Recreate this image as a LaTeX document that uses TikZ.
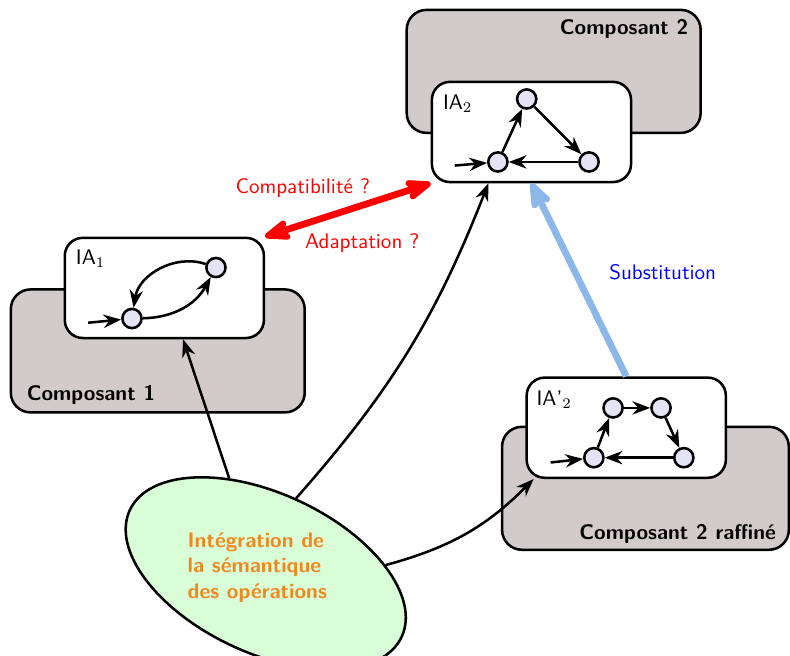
\documentclass[tikz,border=0pt]{standalone}
\usepackage{tikz}
\usetikzlibrary{shapes.geometric,arrows.meta,positioning}
\renewcommand{\familydefault}{\sfdefault}
\definecolor{compgray}{RGB}{211,203,203}
\definecolor{etatfill}{RGB}{228,228,246}
\definecolor{semgreen}{RGB}{217,253,214}
\definecolor{semorange}{RGB}{240,136,30}
\definecolor{substblue}{RGB}{139,184,232}
\tikzset{
  compbox/.style={draw, very thick, rounded corners=0.33cm, fill=compgray, minimum width=4.9cm, minimum height=2.05cm},
  iabox/.style={draw, very thick, rounded corners=0.3cm, fill=white, minimum width=3.32cm, minimum height=1.67cm},
  iatitle/.style={anchor=north west, inner sep=0pt},
  comptitle/.style={inner sep=0pt, font=\bfseries},
  etat/.style={circle, draw, very thick, fill=etatfill, minimum size=0.32cm, inner sep=0pt},
  trans/.style={-{Stealth}, very thick},
  lien/.style={-{Stealth}, very thick},
  blob/.style={ellipse, draw, very thick, fill=semgreen, minimum width=5cm, minimum height=2.66cm},
}

\begin{document}
\begin{tikzpicture}
	%%%%% START %%%%%
	\useasboundingbox (0, 0) rectangle (13.17, 10.93);

	% composant 2
	\node[compbox] (c2) at (9.23, 9.74) {};
	\node[comptitle, anchor=north east] (c2title) at ([shift={(-0.22,-0.18)}]c2.north east) {Composant 2};
	\node[iabox] (ia2) at (8.86, 8.73) {};
	\node[iatitle] (ia2title) at ([shift={(0.2,-0.23)}]ia2.north west) {IA$_2$};
	\node[etat] (s2a) at (8.78, 9.28) {};
	\node[etat] (s2b) at (8.3, 8.23) {};
	\node[etat] (s2c) at (9.82, 8.23) {};
	\coordinate (in2) at (7.58, 8.17);
	\draw[trans] (in2) -- (s2b);
	\draw[trans] (s2b) -- (s2a);
	\draw[trans] (s2a) -- (s2c);
	\draw[trans] (s2c) -- (s2b);

	% composant 1
	\node[compbox] (c1) at (2.63, 5.08) {};
	\node[comptitle, anchor=base west] (c1title) at ([shift={(0.28,0.22)}]c1.south west) {Composant 1};
	\node[iabox] (ia1) at (2.74, 6.13) {};
	\node[iatitle] (ia1title) at ([shift={(0.2,-0.22)}]ia1.north west) {IA$_1$};
	\node[etat] (s1a) at (2.2, 5.62) {};
	\node[etat] (s1b) at (3.6, 6.47) {};
	\coordinate (in1) at (1.47, 5.55);
	\draw[trans] (in1) -- (s1a);
	\draw[trans] (s1a) to[bend right=30] (s1b);
	\draw[trans] (s1b) to[bend right=50] (s1a);

	% composant 2 raffine
	\node[compbox, minimum width=4.78cm] (c3) at (10.76, 2.79) {};
	\node[comptitle, anchor=base east] (c3title) at ([shift={(-0.23,0.2)}]c3.south east) {Composant 2 raffin\'e};
	\node[iabox] (ia3) at (10.44, 3.8) {};
	\node[iatitle] (ia3title) at ([shift={(0.18,-0.23)}]ia3.north west) {IA'$_2$};
	\node[etat] (s3a) at (9.9, 3.3) {};
	\node[etat] (s3b) at (10.22, 4.13) {};
	\node[etat] (s3c) at (11.02, 4.13) {};
	\node[etat] (s3d) at (11.4, 3.3) {};
	\coordinate (in3) at (9.18, 3.22);
	\draw[trans] (in3) -- (s3a);
	\draw[trans] (s3a) -- (s3b);
	\draw[trans] (s3b) -- (s3c);
	\draw[trans] (s3c) -- (s3d);
	\draw[trans] (s3d) -- (s3a);

	% semantique
	\node[blob, rotate=-25] (sem) at (4.43, 1.37) {};
	\node[align=left, inner sep=0pt, text=semorange, font=\bfseries] (semtext) at (4.29, 1.47) {Int\'egration de\\la s\'emantique\\des op\'erations};

	\draw[lien] (sem.136) -- (ia1.-70);
	\draw[lien] (sem.93) to[bend right=10] (ia2.-130);
	\draw[lien] (sem.29) to[bend right=15] (ia3.-151);

	% compatibilite
	\draw[{Stealth[round]}-{Stealth[round]}, line width=3.2pt, red, line cap=round] (ia1.north east) -- (ia2.south west);
	\node[anchor=base west, text=red, inner sep=0pt] (compat) at (3.92, 7.7) {Compatibilit\'e ?};
	\node[anchor=base west, text=red, inner sep=0pt] (adapt) at (5.08, 6.78) {Adaptation ?};

	% substitution
	\draw[-{Stealth[round]}, line width=3.2pt, substblue] (ia3.north) -- (ia2.south);
	\node[anchor=base west, text=blue, inner sep=0pt] (subst) at (10.15, 6.27) {Substitution};
	%%%%% END %%%%%
\end{tikzpicture}
\end{document}
